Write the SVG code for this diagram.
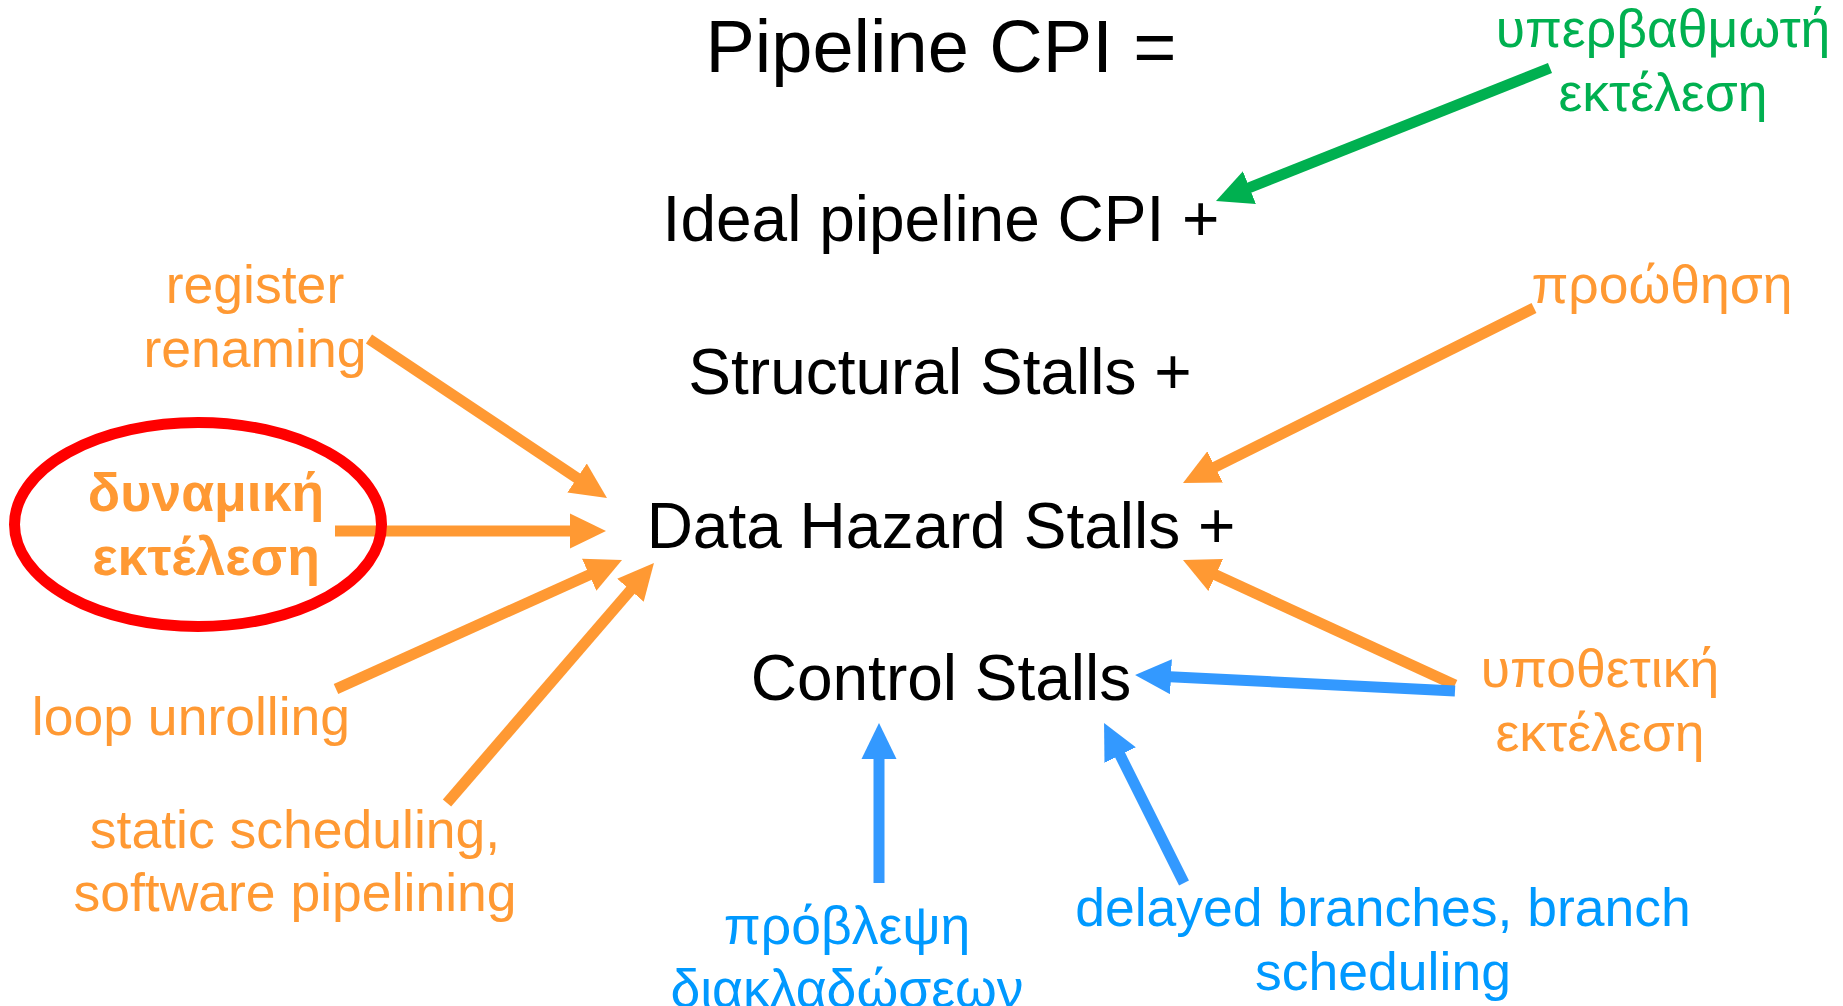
<svg xmlns="http://www.w3.org/2000/svg" width="1843" height="1006" viewBox="0 0 1843 1006">
<style>
text{font-family:"Liberation Sans",Arial,"DejaVu Sans",sans-serif;text-anchor:middle}
.main{font-size:64px;fill:#000}
.title{font-size:74px;fill:#000}
.lbl{font-size:53.5px}
.or{fill:#FF9933}
.gr{fill:#00B050}
.bl{fill:#0099FF}
.bold{font-weight:bold}
.a{stroke-width:11;fill:none;stroke-linecap:butt}
.ao{stroke:#FF9933}
.ag{stroke:#00B050}
.ab{stroke:#3399FF}
</style>
<defs>
<marker id="hO" markerUnits="userSpaceOnUse" markerWidth="36" markerHeight="36" viewBox="0 0 36 36" refX="1" refY="18" orient="auto"><polygon points="0,0.5 36,18 0,35.5" fill="#FF9933"/></marker>
<marker id="hG" markerUnits="userSpaceOnUse" markerWidth="36" markerHeight="36" viewBox="0 0 36 36" refX="1" refY="18" orient="auto"><polygon points="0,0.5 36,18 0,35.5" fill="#00B050"/></marker>
<marker id="hB" markerUnits="userSpaceOnUse" markerWidth="36" markerHeight="36" viewBox="0 0 36 36" refX="1" refY="18" orient="auto"><polygon points="0,0.5 36,18 0,35.5" fill="#3399FF"/></marker>
</defs>
<rect width="1843" height="1006" fill="#fff"/>

<g id="connectors">
<line class="a ag" x1="1550" y1="68" x2="1248.5" y2="188" marker-end="url(#hG)"/>
<line class="a ao" x1="369" y1="339" x2="577.9" y2="478.6" marker-end="url(#hO)"/>
<line class="a ao" x1="335" y1="531" x2="571" y2="531" marker-end="url(#hO)"/>
<line class="a ao" x1="336" y1="689" x2="590.1" y2="574.4" marker-end="url(#hO)"/>
<line class="a ao" x1="447" y1="803" x2="631.1" y2="589.5" marker-end="url(#hO)"/>
<line class="a ao" x1="1534" y1="308" x2="1214.3" y2="467.4" marker-end="url(#hO)"/>
<line class="a ao" x1="1455" y1="685" x2="1214.8" y2="574.6" marker-end="url(#hO)"/>
<line class="a ab" x1="1455" y1="691" x2="1170" y2="676.7" marker-end="url(#hB)"/>
<line class="a ab" x1="879" y1="883" x2="879" y2="758" marker-end="url(#hB)"/>
<line class="a ab" x1="1184" y1="883" x2="1119.7" y2="754.3" marker-end="url(#hB)"/>
</g>

<g id="title"><text class="title" x="941" y="72">Pipeline CPI =</text></g>
<g id="ideal"><text class="main" x="941" y="241">Ideal pipeline CPI +</text></g>
<g id="structural"><text class="main" x="940" y="394">Structural Stalls +</text></g>
<g id="datahazard"><text class="main" x="941" y="548">Data Hazard Stalls +</text></g>
<g id="control"><text class="main" x="941" y="700">Control Stalls</text></g>

<g id="superscalar"><text class="lbl gr" x="1663" y="47">υπερβαθμωτή</text><text class="lbl gr" x="1663" y="111">εκτέλεση</text></g>
<g id="forwarding"><text class="lbl or" x="1662" y="303">προώθηση</text></g>
<g id="speculative"><text class="lbl or" x="1600" y="687">υποθετική</text><text class="lbl or" x="1600" y="751">εκτέλεση</text></g>
<g id="register-renaming"><text class="lbl or" x="255" y="303">register</text><text class="lbl or" x="255" y="367">renaming</text></g>
<g id="dynamic">
<ellipse cx="198" cy="524.5" rx="183.5" ry="102" fill="none" stroke="#FF0000" stroke-width="11"/>
<text class="lbl or bold" x="206" y="511">δυναμική</text><text class="lbl or bold" x="206" y="575">εκτέλεση</text>
</g>
<g id="loop-unrolling"><text class="lbl or" x="191" y="735">loop unrolling</text></g>
<g id="static-scheduling"><text class="lbl or" x="295" y="848">static scheduling,</text><text class="lbl or" x="295" y="911">software pipelining</text></g>
<g id="branch-prediction"><text class="lbl bl" x="847" y="944">πρόβλεψη</text><text class="lbl bl" x="847" y="1007">διακλαδώσεων</text></g>
<g id="delayed-branches"><text class="lbl bl" x="1383" y="926">delayed branches, branch</text><text class="lbl bl" x="1383" y="990">scheduling</text></g>
</svg>
